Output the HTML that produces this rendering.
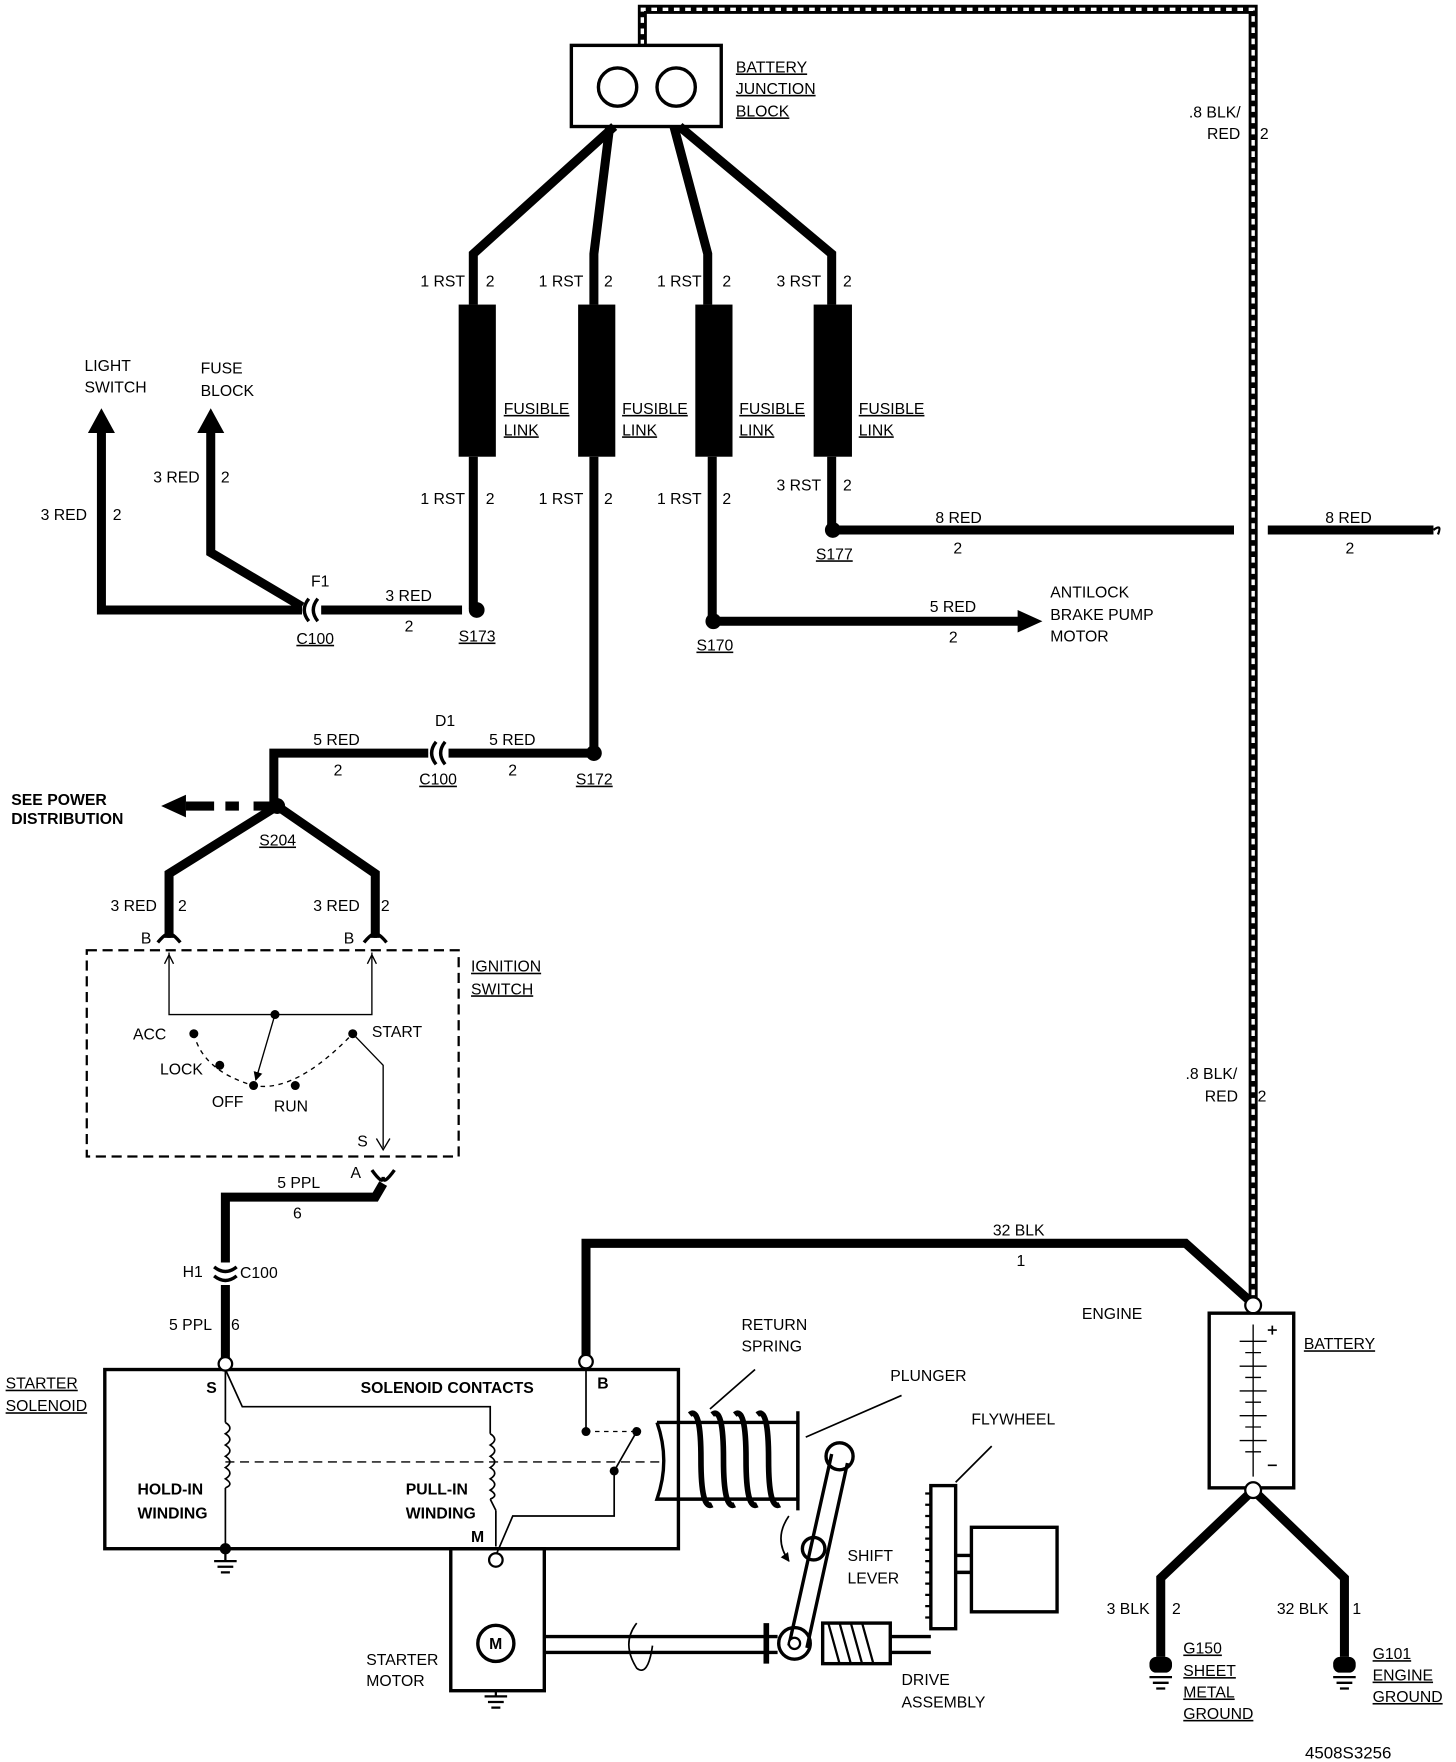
<!DOCTYPE html>
<html><head><meta charset="utf-8"><style>
html,body{margin:0;padding:0;background:#fff;}
svg{display:block}
text{font-family:"Liberation Sans",sans-serif;font-size:14px;fill:#000}
.b{font-weight:bold}
.u{text-decoration:underline}
</style></head><body>
<svg width="1456" height="1762" viewBox="0 0 1292 1563" xmlns="http://www.w3.org/2000/svg">
<defs>
<marker id="ah" markerWidth="8" markerHeight="8" refX="7" refY="4" orient="auto" markerUnits="userSpaceOnUse"><path d="M0,0 L8,4 L0,8z"/></marker>
</defs>
<g fill="none" stroke="#000" stroke-linejoin="miter">
<path d="M570,40 V8 H1112 V1158" stroke-width="8"/>
<path d="M570,40 V8 H1112 V1158" stroke="#fff" stroke-width="3" stroke-dasharray="5 5"/>
<rect x="507" y="40" width="133" height="72" stroke-width="3" fill="#fff"/>
<circle cx="548" cy="77" r="17" stroke-width="3"/>
<circle cx="600" cy="77" r="17" stroke-width="3"/>
<g stroke-width="8">
<path d="M545,112 L420,225 V270 M420,405 V540"/>
<path d="M541,112 L527,225 V270 M527,405 V668"/>
<path d="M598,112 L628,225 V270 M632,405 V550"/>
<path d="M603,112 L738,225 V270 M738,405 V470"/>
<path d="M739,470 H1095 M1125,470 H1272"/>
<path d="M633,551 H905"/>
<path d="M410,541 H285 M268,541 H90 V380"/>
<path d="M187,380 V490 L268,538"/>
<path d="M527,668 H398 M380,668 H243 V715"/>
<path d="M246,715 H225 M212,715 H200 M190,715 H165"/>
<path d="M246,715 L150,775 V832 M246,715 L333,775 V832"/>
<path d="M340,1050 L333,1062 H200 V1120 M200,1140 V1210"/>
<path d="M520,1208 V1103 H1052 L1110,1155"/>
<path d="M1112,1322 L1030,1400 V1470 M1112,1322 L1193,1400 V1470"/>
</g>
<path d="M1272,470 q8,-6 4,4" stroke-width="2"/>
<path d="M90,362 L78,384 H102z M187,362 L175,384 H199z M925,551 L903,541 V561z M143,715 L165,705 V725z" fill="#000" stroke="none"/>
</g>
<g fill="#000">
<rect x="407" y="270" width="33" height="135"/>
<rect x="513" y="270" width="33" height="135"/>
<rect x="617" y="270" width="33" height="135"/>
<rect x="722" y="270" width="34" height="135"/>
<circle cx="423" cy="541" r="7"/><circle cx="527" cy="668" r="7"/><circle cx="633" cy="551" r="7"/><circle cx="739" cy="470" r="7"/><circle cx="246" cy="715" r="7"/>
</g>
<g fill="none" stroke="#000" stroke-width="3">
<path d="M282,531 q-8,10 0,20 M274,531 q-8,10 0,20"/>
<path d="M395,658 q-8,10 0,20 M387,658 q-8,10 0,20"/>
<path d="M140,836 q10,-12 10,-4 q0,-8 10,4 M323,836 q10,-12 10,-4 q0,-8 10,4"/>
<path d="M330,1038 q10,14 10,6 q0,8 10,-6"/>
<path d="M190,1124 q10,8 20,0 M190,1132 q10,8 20,0"/>
</g>
<g fill="none" stroke="#000">
<rect x="77" y="843" width="330" height="183" stroke-width="2" stroke-dasharray="9 5"/>
<path d="M150,845 V900 H330 V845" stroke-width="1.2"/>
<path d="M150,847 l-4,8 M150,847 l4,8 M330,847 l-4,8 M330,847 l4,8" stroke-width="1.2"/>
<path d="M244,900 L227,958" stroke-width="1.2" marker-end="url(#ah)"/>
<path d="M172,917 Q180,950 225,963 Q262,970 313,917" stroke-width="1.2" stroke-dasharray="4 4"/>
<path d="M313,917 L340,945 V1018" stroke-width="1.2"/>
<path d="M334,1010 L340,1020 L346,1010" stroke-width="1.2"/>
</g>
<g fill="#000"><circle cx="244" cy="900" r="4"/><circle cx="172" cy="917" r="4"/><circle cx="195" cy="945" r="4"/><circle cx="225" cy="963" r="4"/><circle cx="262" cy="963" r="4"/><circle cx="313" cy="917" r="4"/></g>
<g fill="none" stroke="#000">
<rect x="93" y="1215" width="509" height="159" stroke-width="3"/>
<path d="M200,1215 V1262 M200,1320 V1372" stroke-width="1.5"/>
<path d="M200,1262 q8,5 0,10 q8,5 0,10 q8,5 0,10 q8,5 0,10 q8,5 0,10 q8,5 0,8" stroke-width="1.5"/>
<path d="M200,1215 L215,1248 H435 V1272 M440,1340 V1372 M440,1380 L455,1345 H545 V1305" stroke-width="1.5"/>
<path d="M435,1272 q8,5 0,10 q8,5 0,10 q8,5 0,10 q8,5 0,10 q8,5 0,10 q8,5 0,8 M435,1330 L440,1340" stroke-width="1.5"/>
<path d="M200,1297 H590" stroke-width="1.2" stroke-dasharray="8 5"/>
<path d="M520,1215 V1270 M545,1305 L565,1270" stroke-width="1.5"/>
<path d="M520,1270 L565,1270" stroke-width="1.2" stroke-dasharray="4 4"/>
<path d="M583,1262 H708 V1330 H583 Q595,1296 583,1262" stroke-width="3"/>
<path d="M612,1255 q10,-8 10,40 q0,45 10,40 M632,1255 q10,-8 10,40 q0,45 10,40 M652,1255 q10,-8 10,40 q0,45 10,40 M672,1255 q10,-8 10,40 q0,45 10,40" stroke-width="5"/>
<path d="M708,1252 V1340" stroke-width="3"/>
<rect x="400" y="1374" width="83" height="126" stroke-width="3"/>
<circle cx="440" cy="1458" r="16" stroke-width="3"/>
<path d="M483,1452 H690 M483,1466 H690" stroke-width="3"/>
<path d="M680,1440 V1476" stroke-width="5"/>
<path d="M738,1290 L700,1460 M752,1298 L716,1462" stroke-width="3"/>
<circle cx="745" cy="1292" r="12" stroke-width="3"/>
<circle cx="722" cy="1374" r="10" stroke-width="3"/>
<circle cx="705" cy="1458" r="14" stroke-width="3"/>
<path d="M700,1345 q-14,20 0,40" stroke-width="1.5" marker-end="url(#ah)"/>
<path d="M565,1440 q-14,18 0,40 q10,8 14,-20" stroke-width="1.5"/>
<rect x="730" y="1440" width="60" height="36" stroke-width="3"/>
<path d="M735,1440 l10,36 M745,1440 l10,36 M755,1440 l10,36 M765,1440 l10,36" stroke-width="2"/>
<path d="M790,1452 H826 M790,1466 H826" stroke-width="3"/>
<rect x="826" y="1318" width="22" height="127" stroke-width="3"/>
<path d="M826,1325 h-5 M826,1335 h-5 M826,1345 h-5 M826,1355 h-5 M826,1365 h-5 M826,1375 h-5 M826,1385 h-5 M826,1395 h-5 M826,1405 h-5 M826,1415 h-5 M826,1425 h-5 M826,1435 h-5" stroke-width="2"/>
<path d="M848,1380 H862 M848,1395 H862" stroke-width="3"/>
<rect x="862" y="1355" width="76" height="75" stroke-width="3"/>
<path d="M670,1215 L630,1250 M800,1238 L715,1275 M880,1283 L848,1315" stroke-width="1.5"/>
<rect x="1073" y="1165" width="75" height="155" stroke-width="3"/>
<path d="M1112,1175 V1310 M1100,1190 h24 M1105,1200 h14 M1100,1212 h24 M1105,1222 h14 M1100,1234 h24 M1105,1244 h14 M1100,1256 h24 M1105,1266 h14 M1100,1278 h24 M1105,1288 h14" stroke-width="1.2"/>
<path d="M1125,1180 h8 M1129,1176 v8 M1125,1300 h8" stroke-width="1.5"/>
</g>
<g fill="#fff" stroke="#000" stroke-width="2">
<circle cx="200" cy="1210" r="6"/><circle cx="520" cy="1208" r="6"/><circle cx="440" cy="1384" r="6"/><circle cx="1112" cy="1158" r="7"/><circle cx="1112" cy="1322" r="7"/><circle cx="705" cy="1458" r="5"/>
</g>
<g fill="#000"><circle cx="200" cy="1374" r="5"/><circle cx="520" cy="1270" r="4"/><circle cx="545" cy="1305" r="4"/><circle cx="565" cy="1270" r="4"/>
<rect x="1020" y="1470" width="20" height="14" rx="6"/><rect x="1183" y="1470" width="20" height="14" rx="6"/></g>
<g stroke="#000" stroke-width="2">
<path d="M200,1374 V1385 M190,1385 h20 M193,1390 h14 M196,1395 h8"/>
<path d="M440,1500 V1505 M430,1505 h20 M433,1510 h14 M436,1515 h8"/>
<path d="M1020,1488 h20 M1023,1493 h14 M1026,1498 h8 M1183,1488 h20 M1186,1493 h14 M1189,1498 h8"/>
</g>
<text x="653" y="64" class="u">BATTERY</text><text x="653" y="83" class="u">JUNCTION</text><text x="653" y="103" class="u">BLOCK</text>
<text x="1055" y="104">.8 BLK/</text><text x="1071" y="123">RED</text><text x="1118" y="123">2</text>
<text x="1052" y="957">.8 BLK/</text><text x="1069" y="977">RED</text><text x="1116" y="977">2</text>
<text x="373" y="254">1 RST</text><text x="431" y="254">2</text>
<text x="478" y="254">1 RST</text><text x="536" y="254">2</text>
<text x="583" y="254">1 RST</text><text x="641" y="254">2</text>
<text x="689" y="254">3 RST</text><text x="748" y="254">2</text>
<text x="373" y="447">1 RST</text><text x="431" y="447">2</text>
<text x="478" y="447">1 RST</text><text x="536" y="447">2</text>
<text x="583" y="447">1 RST</text><text x="641" y="447">2</text>
<text x="689" y="435">3 RST</text><text x="748" y="435">2</text>
<text x="447" y="367" class="u">FUSIBLE</text><text x="447" y="386" class="u">LINK</text>
<text x="552" y="367" class="u">FUSIBLE</text><text x="552" y="386" class="u">LINK</text>
<text x="656" y="367" class="u">FUSIBLE</text><text x="656" y="386" class="u">LINK</text>
<text x="762" y="367" class="u">FUSIBLE</text><text x="762" y="386" class="u">LINK</text>
<text x="830" y="464">8 RED</text><text x="846" y="491">2</text><text x="724" y="496" class="u">S177</text>
<text x="1176" y="464">8 RED</text><text x="1194" y="491">2</text>
<text x="825" y="543">5 RED</text><text x="842" y="570">2</text><text x="618" y="577" class="u">S170</text>
<text x="932" y="530">ANTILOCK</text><text x="932" y="550">BRAKE PUMP</text><text x="932" y="569">MOTOR</text>
<text x="75" y="329">LIGHT</text><text x="75" y="348">SWITCH</text>
<text x="178" y="331">FUSE</text><text x="178" y="351">BLOCK</text>
<text x="36" y="461">3 RED</text><text x="100" y="461">2</text>
<text x="136" y="428">3 RED</text><text x="196" y="428">2</text>
<text x="276" y="520">F1</text><text x="263" y="571" class="u">C100</text>
<text x="342" y="533">3 RED</text><text x="359" y="560">2</text><text x="407" y="569" class="u">S173</text>
<text x="386" y="644">D1</text><text x="278" y="661">5 RED</text><text x="296" y="688">2</text>
<text x="434" y="661">5 RED</text><text x="451" y="688">2</text><text x="372" y="696" class="u">C100</text><text x="511" y="696" class="u">S172</text>
<text x="10" y="714" class="b">SEE POWER</text><text x="10" y="731" class="b">DISTRIBUTION</text>
<text x="230" y="750" class="u">S204</text>
<text x="98" y="808">3 RED</text><text x="158" y="808">2</text><text x="278" y="808">3 RED</text><text x="338" y="808">2</text>
<text x="125" y="837">B</text><text x="305" y="837">B</text>
<text x="418" y="862" class="u">IGNITION</text><text x="418" y="882" class="u">SWITCH</text>
<text x="118" y="922">ACC</text><text x="142" y="953">LOCK</text><text x="188" y="982">OFF</text><text x="243" y="986">RUN</text><text x="330" y="920">START</text>
<text x="317" y="1017">S</text><text x="311" y="1045">A</text>
<text x="246" y="1054">5 PPL</text><text x="260" y="1081">6</text>
<text x="162" y="1133">H1</text><text x="213" y="1134">C100</text>
<text x="150" y="1180">5 PPL</text><text x="205" y="1180">6</text>
<text x="881" y="1096">32 BLK</text><text x="902" y="1123">1</text>
<text x="960" y="1170">ENGINE</text><text x="1157" y="1197" class="u">BATTERY</text>
<text x="5" y="1232" class="u">STARTER</text><text x="5" y="1252" class="u">SOLENOID</text>
<text x="183" y="1236" class="b">S</text><text x="320" y="1236" class="b">SOLENOID CONTACTS</text><text x="530" y="1232" class="b">B</text>
<text x="122" y="1326" class="b">HOLD-IN</text><text x="122" y="1347" class="b">WINDING</text>
<text x="360" y="1326" class="b">PULL-IN</text><text x="360" y="1347" class="b">WINDING</text><text x="418" y="1368" class="b">M</text>
<text x="658" y="1180">RETURN</text><text x="658" y="1199">SPRING</text>
<text x="790" y="1225">PLUNGER</text><text x="862" y="1264">FLYWHEEL</text>
<text x="752" y="1385">SHIFT</text><text x="752" y="1405">LEVER</text>
<text x="800" y="1495">DRIVE</text><text x="800" y="1515">ASSEMBLY</text>
<text x="325" y="1477">STARTER</text><text x="325" y="1496">MOTOR</text>
<text x="434" y="1463" class="b">M</text>
<text x="982" y="1432">3 BLK</text><text x="1040" y="1432">2</text>
<text x="1133" y="1432">32 BLK</text><text x="1200" y="1432">1</text>
<text x="1050" y="1467" class="u">G150</text><text x="1050" y="1487" class="u">SHEET</text><text x="1050" y="1506" class="u">METAL</text><text x="1050" y="1525" class="u">GROUND</text>
<text x="1218" y="1472" class="u">G101</text><text x="1218" y="1491" class="u">ENGINE</text><text x="1218" y="1510" class="u">GROUND</text>
<text x="1158" y="1560" style="font-size:15px">4508S3256</text>
</svg>
</body></html>
